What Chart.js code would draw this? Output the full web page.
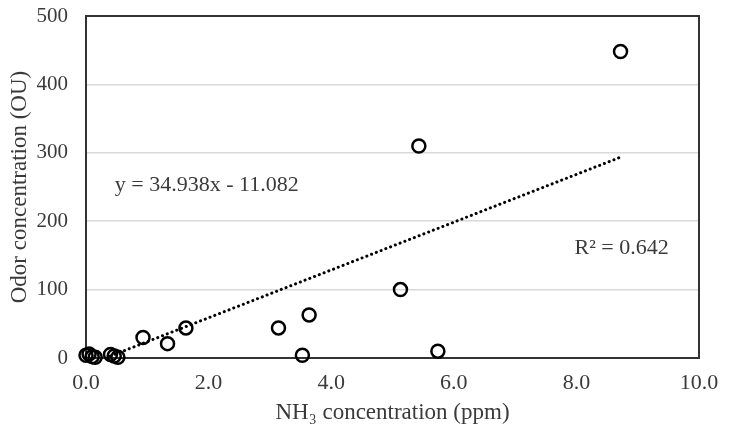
<!DOCTYPE html>
<html>
<head>
<meta charset="utf-8">
<script src="https://cdn.jsdelivr.net/npm/chart.js@4.4.1/dist/chart.umd.min.js"></script>
<style>
  html, body { margin: 0; padding: 0; background: #fff; }
  #wrap { width: 731px; height: 437px; }
</style>
</head>
<body>
<div id="wrap"><canvas id="chart"></canvas></div>
<script>
// NH3 (ppm) vs odor (OU)
var nh3 = [0.00, 0.05, 0.10, 0.15, 0.40, 0.46, 0.52, 0.93, 1.33, 1.63, 3.14, 3.53, 3.64, 5.13, 5.43, 5.74, 8.72];
var odor = [4, 6, 2, 1, 5, 3, 1, 30, 21, 44, 44, 4, 63, 100, 310, 10, 448];

var xTicks = [0, 2, 4, 6, 8, 10];
var yTicks = [0, 100, 200, 300, 400, 500];

// trendline shown on the chart
var slope = 34.938, intercept = -11.082;
var trendFrom = -intercept / slope, trendTo = 8.72;
var eqText = "y = 34.938x - 11.082";
var r2Text = "R\u00b2 = 0.642";

var points = nh3.map((x, i) => ({x: x, y: odor[i]}));
var trend = [trendFrom, trendTo].map((x) => ({x: x, y: slope * x + intercept}));

var textColor = "#3a3a3a";
var serif = "'Liberation Serif', 'Times New Roman', serif";

// plot frame + the two text notes
var extras = {
    id: "extras",
    beforeDatasetsDraw(chart) {
        var a = chart.chartArea, c = chart.ctx;
        c.save();
        c.strokeStyle = "#333";
        c.lineWidth = 2;
        c.strokeRect(a.left, a.top, a.right - a.left, a.bottom - a.top);
        c.restore();
    },
    afterDatasetsDraw(chart) {
        var c = chart.ctx, xs = chart.scales.x, ys = chart.scales.y;
        c.save();
        c.fillStyle = textColor;
        c.font = "22px " + serif;
        c.textBaseline = "middle";
        c.fillText(eqText, xs.getPixelForValue(0.47), ys.getPixelForValue(253));
        c.fillText(r2Text, xs.getPixelForValue(7.97), ys.getPixelForValue(160));
        c.restore();
    }
};

new Chart(document.getElementById("chart"), {
    type: "scatter",
    data: {
        datasets: [{
            data: points,
            clip: false,
            pointStyle: "circle",
            pointRadius: 6.5,
            pointBorderWidth: 2.5,
            pointBorderColor: "#000",
            pointBackgroundColor: "rgba(0,0,0,0)",
            showLine: false
        }, {
            type: "line",
            data: trend,
            borderColor: "#000",
            borderWidth: 3,
            borderDash: [0.1, 5],
            borderCapStyle: "round",
            pointRadius: 0,
            fill: false
        }]
    },
    options: {
        responsive: true,
        maintainAspectRatio: false,
        animation: false,
        layout: { padding: { top: 16, right: 32, left: 0, bottom: 0 } },
        plugins: { legend: { display: false }, tooltip: { enabled: false } },
        scales: {
            x: {
                type: "linear",
                min: 0, max: 10,
                afterBuildTicks: (s) => { s.ticks = xTicks.map((v) => ({value: v})); },
                afterFit: (s) => { s.height = 79; s.paddingLeft = 0; s.paddingRight = 0; },
                grid: { display: false, drawTicks: false },
                border: { display: false },
                ticks: {
                    padding: 12,
                    color: textColor,
                    font: { family: serif, size: 22 },
                    callback: (v) => v.toFixed(1)
                },
                title: {
                    display: true,
                    text: "NH\u2083 concentration (ppm)",
                    color: textColor,
                    font: { family: serif, size: 23 },
                    padding: { top: 0, bottom: 10 }
                }
            },
            y: {
                min: 0, max: 500,
                afterBuildTicks: (s) => { s.ticks = yTicks.map((v) => ({value: v})); },
                // fixed width, and drop the label overhang so the frame sits where the original does
                afterFit: (s) => { s.width = 86; s.paddingTop = 0; s.paddingBottom = 0; },
                grid: { color: "#d9d9d9", lineWidth: 1.5, drawTicks: false },
                border: { display: false },
                ticks: {
                    padding: 18,
                    color: textColor,
                    font: { family: serif, size: 21 }
                },
                title: {
                    display: true,
                    text: "Odor concentration (OU)",
                    color: textColor,
                    font: { family: serif, size: 23 },
                    padding: { top: 6, bottom: 0 }
                }
            }
        }
    },
    plugins: [extras]
});
</script>
</body>
</html>
